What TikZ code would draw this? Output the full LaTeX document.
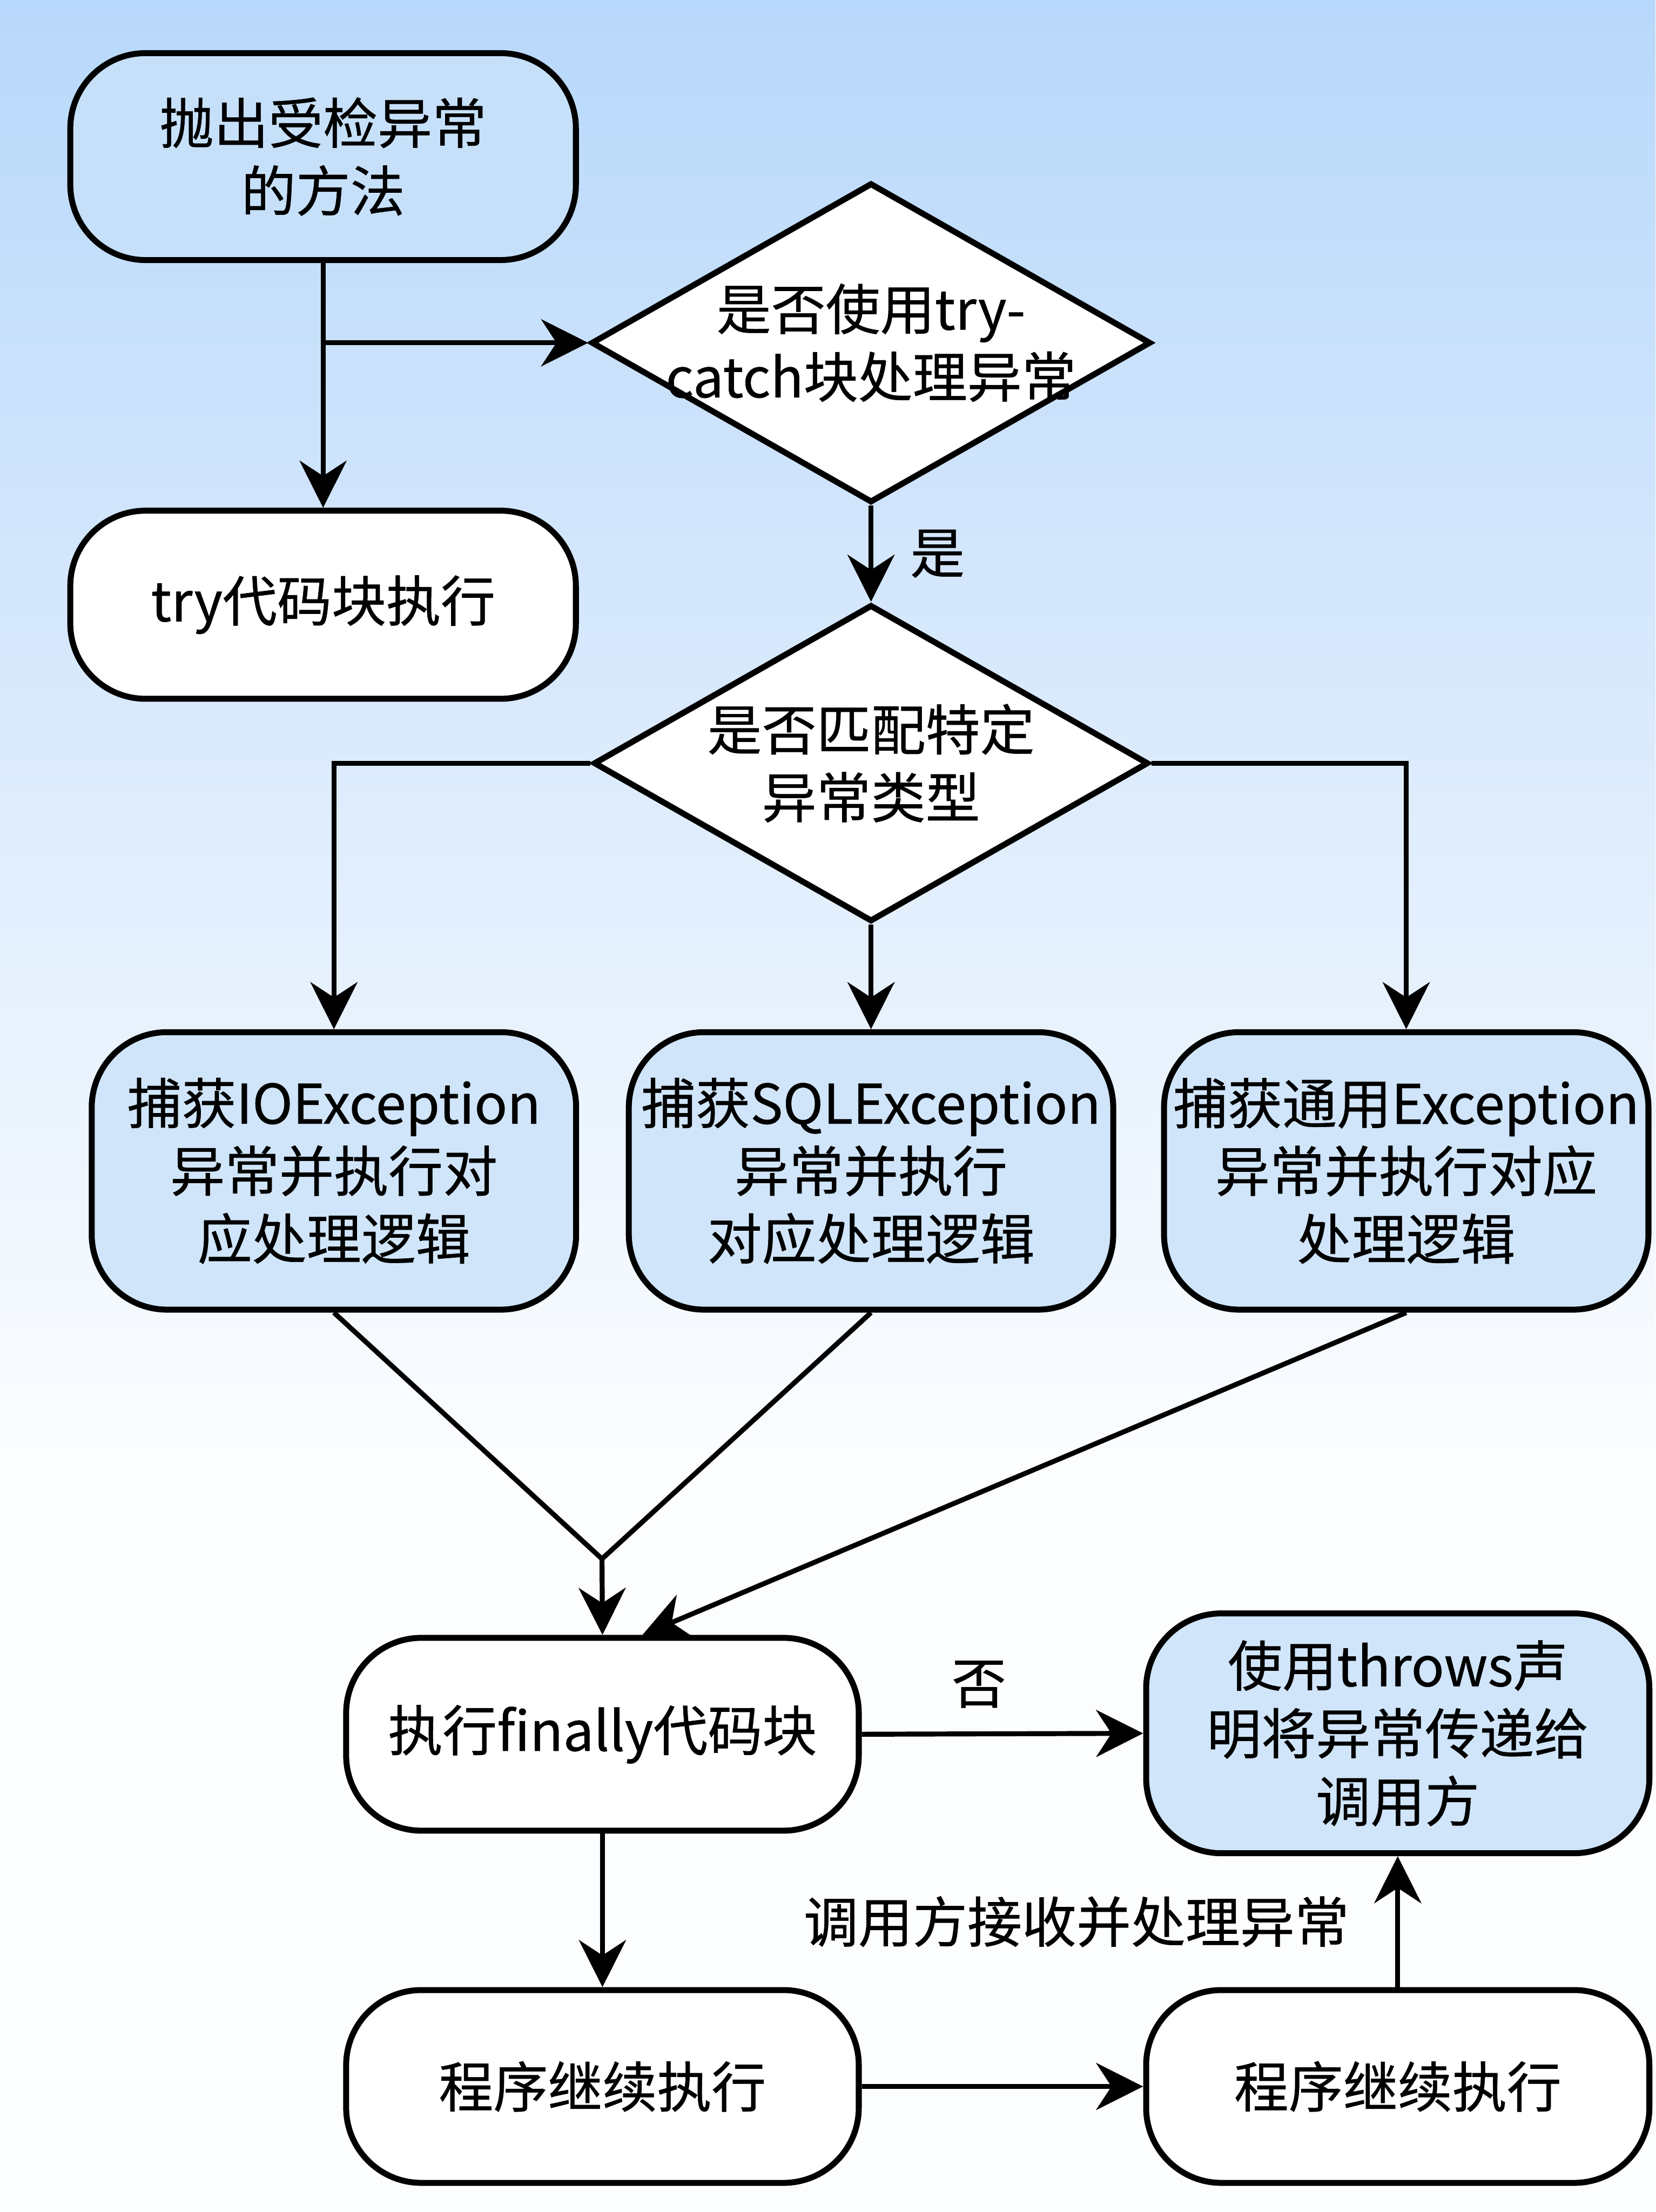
\documentclass[tikz,border=0pt]{standalone}
\usepackage{fontspec}
\setmainfont{Noto Sans CJK SC}[FakeBold=0.6]
\usepackage{tikz}
\usetikzlibrary{shapes.geometric,arrows.meta,positioning,calc}
\definecolor{bgtop}{HTML}{B8D8FB}
\definecolor{bgmid}{HTML}{DCEBFC}
\definecolor{bgbot}{HTML}{FBFDFF}
\definecolor{boxblue}{HTML}{D0E5F9}
\definecolor{topblue}{HTML}{C6E0FA}
\pgfdeclareverticalshading{bgfade}{100bp}{color(0bp)=(bgbot); color(42bp)=(bgbot); color(58bp)=(bgmid); color(75bp)=(bgtop); color(100bp)=(bgtop)}

\begin{document}
\begin{tikzpicture}[
    every node/.style={align=center, font=\fontsize{33}{41}\selectfont},
    procbox/.style={draw, line width=3.6pt, rounded corners=1.6cm, minimum width=10.75cm, minimum height=4cm, inner sep=0pt},
    choice/.style={draw, diamond, line width=3.6pt, fill=white, inner sep=0pt},
    flow/.style={line width=3pt, -{Stealth[length=1cm, width=1cm]}},
    plain/.style={line width=3pt},
    tag/.style={inner sep=0pt}
]
    % background
    \shade[shading=bgfade] (0,0) rectangle (35.2,-47.04);

    % method and try block
    \node[procbox, fill=topblue, minimum height=4.4cm] (throwm) at (6.87,-3.33) {抛出受检异常\\的方法};
    \node[procbox, fill=white] (trybox) at (6.87,-12.86) {try代码块执行};

    % decisions
    \node[choice, minimum width=11.9cm, minimum height=6.8cm] (usetry) at (18.52,-7.29) {};
    \node (usetryt) at (usetry) {是否使用try-\\catch块处理异常};
    \node[choice, minimum width=11.8cm, minimum height=6.74cm] (match) at (18.52,-16.23) {};
    \node (matcht) at (match) {是否匹配特定\\异常类型};

    % catch blocks
    \node[procbox, fill=boxblue, minimum width=10.3cm, minimum height=5.9cm] (io) at (7.10,-24.90) {捕获IOException\\异常并执行对\\应处理逻辑};
    \node[procbox, fill=boxblue, minimum width=10.3cm, minimum height=5.9cm] (sql) at (18.52,-24.90) {捕获SQLException\\异常并执行\\对应处理逻辑};
    \node[procbox, fill=boxblue, minimum width=10.3cm, minimum height=5.9cm] (gen) at (29.90,-24.90) {捕获通用Exception\\异常并执行对应\\处理逻辑};

    % finally, throws and continue
    \node[procbox, fill=white, minimum width=10.9cm, minimum height=4.1cm] (finally) at (12.81,-36.88) {执行finally代码块};
    \node[procbox, fill=boxblue, minimum width=10.7cm, minimum height=5.1cm] (throws) at (29.72,-36.86) {使用throws声\\明将异常传递给\\调用方};
    \node[procbox, fill=white, minimum width=10.9cm, minimum height=4.1cm] (cont1) at (12.81,-44.37) {程序继续执行};
    \node[procbox, fill=white, minimum width=10.7cm, minimum height=4.1cm] (cont2) at (29.72,-44.37) {程序继续执行};

    % top connectors
    \draw[flow] (throwm) -- (trybox);
    \coordinate (fork) at (throwm.south |- usetry.west);
    \draw[flow] (fork) -- (usetry.west);
    \draw[flow] (usetry.south) -- node[tag, right=0.78cm] (yes) {是} (match.north);

    % match branches
    \draw[flow] (match.west) -| (io.north);
    \draw[flow] (match.south) -- (sql.north);
    \draw[flow] (match.east) -| (gen.north);

    % merge into finally
    \coordinate (merge) at (12.80,-33.15);
    \draw[plain] (io.south) -- (merge);
    \draw[plain] (sql.south) -- (merge);
    \draw[flow] (merge) -- (finally.north);
    \draw[flow] (gen.south) -- ($(finally.north)+(0.85,0)$);

    % bottom connectors
    \draw[flow] (finally.east) -- node[tag, above=0.5cm, xshift=-0.5cm] (no) {否} (throws.west);
    \draw[flow] (finally) -- (cont1);
    \draw[flow] (cont1) -- (cont2);
    \draw[flow] (cont2) -- node[tag, left=0.98cm] (recv) {调用方接收并处理异常} (throws);
\end{tikzpicture}
\end{document}
